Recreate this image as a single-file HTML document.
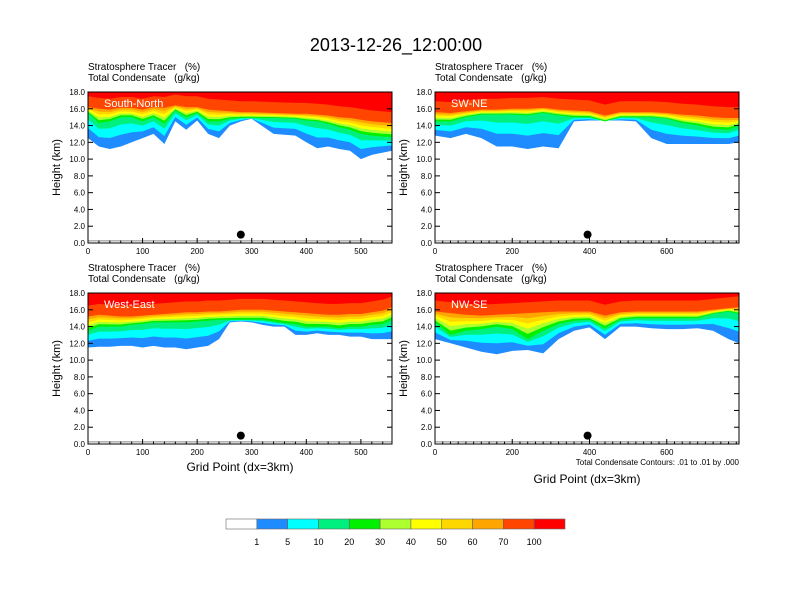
<!DOCTYPE html>
<html><head><meta charset="utf-8"><style>
body{margin:0;background:#fff;}
svg{display:block;font-family:"Liberation Sans",Arial,sans-serif;}
</style></head><body>
<svg id="chart" width="792" height="612" viewBox="0 0 792 612">
<text x="396" y="51" text-anchor="middle" font-size="18">2013-12-26_12:00:00</text>
</svg>
<script>
const levels = [1,5,10,20,30,40,50,60,70,100];
const levelColors = ['#ffffff','#1e8cff','#00ffff','#00f080','#00f000','#adff2f','#ffff00','#ffd700','#ffa500','#ff4500','#ff0000'];
const colorbarLabels = ['1','5','10','20','30','40','50','60','70','100'];

const tlX = [0,20,40,60,80,100,120,140,160,180,200,220,240,260,280,300,340,380,400,420,440,460,480,500,520,557];
const tlB1 = [12.5,11.5,11.2,11.5,12,12.5,13,11.8,14.5,13.5,14.6,13,12.5,14,14.5,14.8,13,12.8,12,11.3,11.5,11.2,11,10,10.5,11];
const tlB20 = [15.5,14.3,14.5,15,15,14.5,15,14.2,15.8,15,15.5,14.5,14.5,14.8,14.9,14.9,14.9,14.8,14.6,14.5,14.2,13.8,13.5,13,12.8,12.6];
const tlB70 = [16.2,16,15.9,16.1,16.1,15.9,16.2,16.1,16.4,16.2,16.2,15.9,15.8,15.7,15.6,15.6,15.5,15.4,15.4,15.3,15.2,15,14.9,14.7,14.5,14.3];

const trX = [0,40,80,120,160,200,240,280,320,360,400,440,480,520,560,600,640,680,720,760,787];
const trB1 = [12.8,12.5,13,12.5,11.5,11.5,11.2,11.5,11.3,14.5,14.6,14.6,14.6,14.5,12.5,11.8,11.8,11.8,11.8,11.8,12];
const trB20 = [14.5,14.5,15,15.3,15.3,15.3,15.2,15.5,15.2,15,15,14.5,15,15,15,14.8,14.3,14,13.6,13.5,14];
const trB70 = [15.6,15.5,15.7,15.9,15.9,16,16,16.1,15.9,15.8,15.7,15.2,15.6,15.6,15.6,15.5,15.3,15.2,15,14.9,14.9];

const blX = [0,20,40,60,80,100,120,140,160,180,200,220,240,260,280,300,320,340,360,380,400,420,440,460,480,500,520,540,557];
const blB1 = [11.5,11.6,11.6,11.7,11.7,11.5,11.7,11.5,11.5,11.3,11.5,11.7,12.5,14.5,14.6,14.5,14.2,14,14,13,13,13.2,13,13,12.8,12.8,12.5,12.5,12.5];
const blB20 = [13.5,14,14,14,14.2,14.3,14.5,14.5,14.5,14.5,14.6,14.7,14.8,14.8,14.8,14.8,14.8,14.6,14.4,14.3,14,14,14,13.8,14,14,14.2,14.3,14.8];
const blB70 = [15.2,15.4,15.3,15.2,15.2,15.3,15.4,15.5,15.6,15.7,15.7,15.8,15.8,15.9,16,16,16,15.9,15.8,15.7,15.6,15.5,15.4,15.4,15.5,15.5,15.7,15.9,16.3];

const brX = [0,40,80,120,160,200,240,280,320,360,400,440,480,520,560,600,640,680,720,760,787];
const brB1 = [12.5,12,11.5,11,10.7,11.1,11.2,10.8,12.5,13.5,13.9,12.5,14,14,13.8,13.7,13.7,13.8,13.5,12.5,12];
const brB20 = [14.5,13,13.5,13.7,14,13.7,12.5,13.5,14.3,14.7,14.8,13.8,14.8,15,15,15,15,15,15.5,15.8,15.5];
const brB70 = [15.8,15.6,15.4,15.3,15.4,15.5,15.6,15.7,15.8,15.8,15.8,15.3,15.7,15.8,15.8,15.8,15.8,15.8,16,16.2,16.3];

const yTicks = ['0.0','2.0','4.0','6.0','8.0','10.0','12.0','14.0','16.0','18.0'];
const xTicksA = [0,100,200,300,400,500];
const xTicksB = [0,200,400,600];

const NS='http://www.w3.org/2000/svg';
const svg=document.getElementById('chart');
function el(tag,attrs,parent){const e=document.createElementNS(NS,tag);for(const k in attrs)e.setAttribute(k,attrs[k]);(parent||svg).appendChild(e);return e;}

const panels=[
 {name:'south-north',label:'South-North',x0:88,y0:92,w:304,h:151,xmax:557,xs:tlX,b1:tlB1,b20:tlB20,b70:tlB70,ticks:xTicksA,dot:280},
 {name:'sw-ne',label:'SW-NE',x0:435,y0:92,w:304,h:151,xmax:787,xs:trX,b1:trB1,b20:trB20,b70:trB70,ticks:xTicksB,dot:395},
 {name:'west-east',label:'West-East',x0:88,y0:293,w:304,h:151,xmax:557,xs:blX,b1:blB1,b20:blB20,b70:blB70,ticks:xTicksA,dot:280},
 {name:'nw-se',label:'NW-SE',x0:435,y0:293,w:304,h:151,xmax:787,xs:brX,b1:brB1,b20:brB20,b70:brB70,ticks:xTicksB,dot:395}
];

function levelHeight(p,i,k){
  const b1=p.b1[i],b20=p.b20[i],b70=p.b70[i];
  if(k===0)return b1;
  if(k===1)return b1+(b20-b1)*0.4;
  if(k===2)return b1+(b20-b1)*0.75;
  if(k<=8)return b20+(b70-b20)*(k-3)/5;
  return Math.min(18,b70+1.3);
}

panels.forEach(p=>{
  const g=el('g',{});
  
  
  const sx=v=>p.x0+v/p.xmax*p.w;
  const sy=v=>p.y0+p.h-v/18*p.h;
  const t1=el('text',{x:p.x0,y:p.y0-22,'font-size':10,'xml:space':'preserve'},g);
  t1.textContent='Stratosphere Tracer\u00a0\u00a0\u00a0(%)';
  const t2=el('text',{x:p.x0,y:p.y0-11,'font-size':10},g);
  t2.textContent='Total Condensate\u00a0\u00a0\u00a0(g/kg)';
  for(let k=0;k<levels.length;k++){
    let d='M'+sx(p.xs[0])+','+sy(18);
    p.xs.forEach((xv,i)=>{d+=' L'+sx(xv).toFixed(1)+','+sy(levelHeight(p,i,k)).toFixed(1);});
    d+=' L'+sx(p.xs[p.xs.length-1])+','+sy(18)+' Z';
    const poly=el('path',{d:d,fill:levelColors[k+1]},g);
    
    
  }
  el('line',{x1:p.x0,x2:p.x0+p.w,y1:sy(0.25),y2:sy(0.25),stroke:'#888','stroke-width':1},g);
  el('rect',{x:p.x0,y:p.y0,width:p.w,height:p.h,fill:'none',stroke:'#000','stroke-width':1},g);
  yTicks.forEach((t,i)=>{
    const y=sy(i*2);
    el('line',{x1:p.x0,x2:p.x0+5,y1:y,y2:y,stroke:'#000'},g);
    el('line',{x1:p.x0+p.w-5,x2:p.x0+p.w,y1:y,y2:y,stroke:'#000'},g);
    el('text',{x:p.x0-3,y:y+3,'font-size':8,'text-anchor':'end'},g).textContent=t;
  });
  for(let v=0;v<=p.xmax;v+=20){
    const x=sx(v);const major=p.ticks.includes(v);
    el('line',{x1:x,x2:x,y1:p.y0+p.h,y2:p.y0+p.h-(major?5:2.5),stroke:'#000'},g);
  }
  p.ticks.forEach(v=>{el('text',{x:sx(v),y:p.y0+p.h+11,'font-size':8,'text-anchor':'middle'},g).textContent=String(v);});
  const yt=el('text',{x:0,y:0,'font-size':11,'text-anchor':'middle',transform:'translate('+(p.x0-28)+','+(p.y0+p.h/2)+') rotate(-90)'},g);
  yt.textContent='Height (km)';
  
  
  const lb=el('text',{x:p.x0+16,y:p.y0+15,'font-size':11,fill:'#fff'},g);
  lb.textContent=p.label;
  
  
  const dot=el('circle',{cx:sx(p.dot),cy:sy(1),r:4,fill:'#000'},g);
  
  
});

const xt1=el('text',{x:240,y:471,'font-size':12,'text-anchor':'middle'});xt1.textContent='Grid Point (dx=3km)';


const xt2=el('text',{x:587,y:483,'font-size':12,'text-anchor':'middle'});xt2.textContent='Grid Point (dx=3km)';


const note=el('text',{x:739,y:465,'font-size':8,'text-anchor':'end'});note.textContent='Total Condensate Contours: .01 to .01 by .000';



const cb=el('g',{});


const cbx=226,cbw=339/11;
levelColors.forEach((c,i)=>{
  const r=el('rect',{x:cbx+i*cbw,y:519,width:cbw,height:10,fill:c,stroke:'#666','stroke-width':0.6},cb);
  
  
});
colorbarLabels.forEach((t,i)=>{
  const tx=el('text',{x:cbx+(i+1)*cbw,y:545,'font-size':9,'text-anchor':'middle'},cb);
  tx.textContent=t;
  
  
});
</script>
</body></html>
